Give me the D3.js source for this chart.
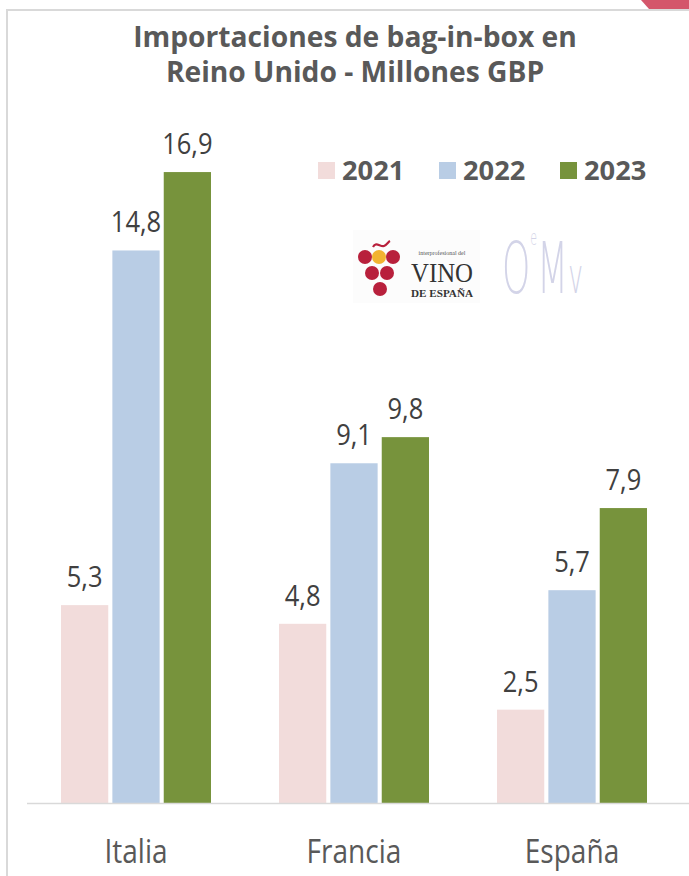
<!DOCTYPE html>
<html>
<head>
<meta charset="utf-8">
<script src="https://cdn.jsdelivr.net/npm/d3@7"></script>
<style>
  body { margin: 0; background: #fff; }
  svg { display: block; }
</style>
</head>
<body>
<div id="chart"></div>
<script>
// data
var categories = ["Italia", "Francia", "España"];
var years = ["2021", "2022", "2023"];
var values2021 = [5.3, 4.8, 2.5];
var values2022 = [14.8, 9.1, 5.7];
var values2023 = [16.9, 9.8, 7.9];
var seriesColors = ["#F2DCDB", "#B9CDE5", "#77933C"];
var titleLines = ["Importaciones de bag-in-box en", "Reino Unido - Millones GBP"];

var W = 689, H = 876;
var font = "'Open Sans', 'DejaVu Sans', sans-serif";
var squeeze = 0.85;   // the source font is narrower than Open Sans

var series = years.map(function(y, i) {
    return { year: y, color: seriesColors[i],
             values: [values2021, values2022, values2023][i] };
});

var svg = d3.select("#chart").append("svg")
    .attr("width", W).attr("height", H);

// frame: light grey border on top and left, red tab peeking from the corner
svg.append("path")
    .attr("d", "M7,876 L7,10 L689,10")
    .attr("fill", "none").attr("stroke", "#D9D9D9").attr("stroke-width", 2);
svg.append("polygon")
    .attr("points", "641,0 689,0 689,9 649,9")
    .attr("fill", "#D4566B");

function squeezedText(parent, x, y, str, size, weight, color, sx) {
    var g = parent.append("g")
        .attr("transform", "translate(" + x + "," + y + ") scale(" + sx + ",1)");
    return g.append("text")
        .attr("text-anchor", "middle")
        .attr("font-family", font)
        .attr("font-size", size)
        .attr("font-weight", weight)
        .attr("fill", color)
        .text(str);
}

// title
titleLines.forEach(function(t, i) {
    squeezedText(svg, 355, 47 + i * 35, t, 28.5, "bold", "#595959", 0.99);
});

// scales
var x0 = d3.scaleBand()
    .domain(categories)
    .range([27, 681])
    .paddingInner(0.312)
    .paddingOuter(0.156);

var x1 = d3.scaleBand()
    .domain(years)
    .range([0, x0.bandwidth()])
    .paddingInner(0.08);

var y = d3.scaleLinear()
    .domain([0, 18])
    .range([803, 131]);

var fmt = function(v) { return d3.format(".1f")(v).replace(".", ","); };

// bars
var groups = svg.append("g").selectAll("g")
    .data(series)
    .enter().append("g")
    .attr("fill", function(d) { return d.color; });

groups.selectAll("rect")
    .data(function(s) {
        return s.values.map(function(v, i) {
            return { cat: categories[i], year: s.year, value: v };
        });
    })
    .enter().append("rect")
    .attr("x", function(d) { return x0(d.cat) + x1(d.year); })
    .attr("y", function(d) { return y(d.value); })
    .attr("width", x1.bandwidth())
    .attr("height", function(d) { return y(0) - y(d.value); });

// value labels
var labelLayer = svg.append("g");
series.forEach(function(s) {
    s.values.forEach(function(v, i) {
        var cx = x0(categories[i]) + x1(s.year) + x1.bandwidth() / 2;
        squeezedText(labelLayer, cx, y(v) - 18, fmt(v), 30, "normal", "#404040", squeeze);
    });
});

// baseline
svg.append("line")
    .attr("x1", 27).attr("x2", W)
    .attr("y1", y(0) + 0.5).attr("y2", y(0) + 0.5)
    .attr("stroke", "#D9D9D9").attr("stroke-width", 1.5);

// category axis
var xAxis = svg.append("g")
    .attr("transform", "translate(0," + y(0) + ")")
    .call(d3.axisBottom(x0).tickSize(0).tickPadding(0));
xAxis.select(".domain").remove();
xAxis.selectAll(".tick text").remove();
xAxis.selectAll(".tick").each(function(d) {
    squeezedText(d3.select(this), 0, 60, d, 33, "normal", "#595959", squeeze);
});

// legend
var legend = svg.append("g").attr("transform", "translate(318,162)");
series.forEach(function(s, i) {
    var g = legend.append("g").attr("transform", "translate(" + (i * 121) + ",0)");
    g.append("rect").attr("width", 17).attr("height", 17).attr("fill", s.color);
    var t = g.append("g").attr("transform", "translate(24,17.5) scale(1.05,1)");
    t.append("text")
        .attr("font-family", font).attr("font-size", 26).attr("font-weight", "bold")
        .attr("fill", "#595959").text(s.year);
});

// logos (Interprofesional del Vino de España / OeMv)
var logo = svg.append("g");
logo.append("rect").attr("x", 353).attr("y", 230).attr("width", 127).attr("height", 73)
    .attr("fill", "#FCFCFC");
var grapes = [[365, 257, "#B8203C"], [379, 257, "#F2B331"], [393, 257, "#B8203C"],
              [372, 273, "#B8203C"], [387, 273, "#B8203C"], [380, 289, "#B8203C"]];
logo.selectAll("circle").data(grapes).enter().append("circle")
    .attr("cx", function(d) { return d[0]; })
    .attr("cy", function(d) { return d[1]; })
    .attr("r", 7)
    .attr("fill", function(d) { return d[2]; });
logo.append("path")
    .attr("d", "M373,247 C376,241 380,247 384,246 C387,245 388,242 390,241")
    .attr("fill", "none").attr("stroke", "#B8203C").attr("stroke-width", 2.2);
logo.append("text").attr("x", 442).attr("y", 255).attr("text-anchor", "middle")
    .attr("font-family", "'Liberation Serif', serif").attr("font-size", 6)
    .attr("fill", "#555").text("interprofesional del");
logo.append("text").attr("x", 442).attr("y", 282).attr("text-anchor", "middle")
    .attr("font-family", "'Liberation Serif', serif").attr("font-size", 27)
    .attr("fill", "#333").attr("textLength", 62).attr("lengthAdjust", "spacingAndGlyphs")
    .text("VINO");
logo.append("text").attr("x", 442).attr("y", 297).attr("text-anchor", "middle")
    .attr("font-family", "'Liberation Serif', serif").attr("font-size", 11)
    .attr("font-weight", "bold").attr("fill", "#333")
    .attr("textLength", 62).attr("lengthAdjust", "spacingAndGlyphs")
    .text("DE ESPAÑA");

// OeMv: tall, thin lavender letters in one text element
var oemv = logo.append("g").attr("transform", "translate(502,293) scale(0.5,1)")
    .append("text")
    .attr("font-family", "'DejaVu Sans', sans-serif").attr("font-weight", 200)
    .attr("fill", "#D3D4E8");
oemv.append("tspan").attr("font-size", 72).text("O");
oemv.append("tspan").attr("font-size", 22).attr("dy", -48).text("e");
oemv.append("tspan").attr("font-size", 72).attr("dy", 48).text("M");
oemv.append("tspan").attr("font-size", 50).text("v");
</script>
</body>
</html>
